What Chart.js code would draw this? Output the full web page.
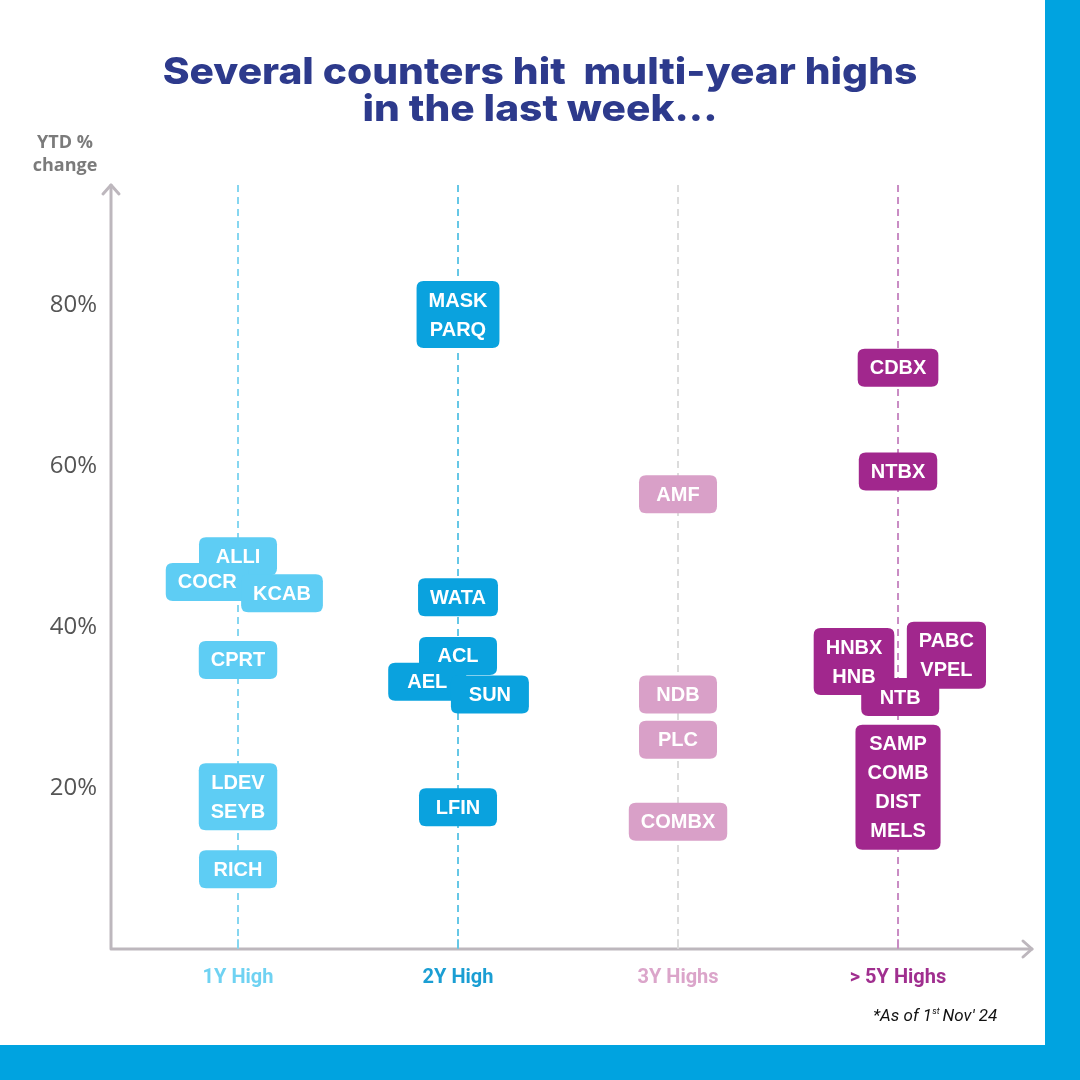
<!DOCTYPE html>
<html>
<head>
<meta charset="utf-8">
<title>Multi-year highs</title>
<script src="https://cdn.jsdelivr.net/npm/chart.js@4.4.1/dist/chart.umd.min.js"></script>
<style>
  body { margin: 0; background: #fff; }
  canvas { display: block; }
</style>
</head>
<body>
<canvas id="chart" width="1080" height="1080"></canvas>
<script>
// categorias e valores (YTD % change)
const categories = ['1Y High', '2Y High', '3Y Highs', '> 5Y Highs'];
const yTickValues = [20, 40, 60, 80];

const oneYearNames = [['ALLI'], ['COCR'], ['KCAB'], ['CPRT'], ['LDEV', 'SEYB'], ['RICH']];
const oneYearChange = [48.8, 45.6, 44.2, 35.9, 18.9, 9.9];
const oneYearShift = [0, -0.14, 0.2, 0, 0, 0];

const twoYearNames = [['MASK', 'PARQ'], ['WATA'], ['ACL'], ['AEL'], ['SUN'], ['LFIN']];
const twoYearChange = [78.8, 43.7, 36.4, 33.2, 31.6, 17.6];
const twoYearShift = [0, 0, 0, -0.14, 0.145, 0];

const threeYearNames = [['AMF'], ['NDB'], ['PLC'], ['COMBX']];
const threeYearChange = [56.5, 31.6, 26.0, 15.8];
const threeYearShift = [0, 0, 0, 0];

const fiveYearNames = [['CDBX'], ['NTBX'], ['HNBX', 'HNB'], ['PABC', 'VPEL'], ['NTB'], ['SAMP', 'COMB', 'DIST', 'MELS']];
const fiveYearChange = [72.2, 59.3, 35.7, 36.5, 31.3, 20.1];
const fiveYearShift = [0, 0, -0.2, 0.22, 0.01, 0];

// cores
const boxColors = ['#5ecdf4', '#0aa2de', '#d9a0c8', '#a1278d'];
const lineColors = ['#86d6f0', '#66c7e6', '#dcdcdc', '#c98cc4'];
const tickColors = ['#6fd2f2', '#1b9ed3', '#dba5ca', '#a02f8f'];
const axisColor = '#bdb7bd';

const groups = [
    [oneYearNames, oneYearChange, oneYearShift],
    [twoYearNames, twoYearChange, twoYearShift],
    [threeYearNames, threeYearChange, threeYearShift],
    [fiveYearNames, fiveYearChange, fiveYearShift]
];

const datasets = groups.map(function(g, c) {
    return {
        label: categories[c],
        data: g[1].map(function(v, i) {
            return { x: c + 1 + g[2][i], y: v, names: g[0][i] };
        }),
        pointRadius: 0,
        backgroundColor: boxColors[c]
    };
});

const BOX_FONT = 'bold 20px "Liberation Sans", Arial, sans-serif';
const NARROW = '"Liberation Sans Narrow", "Roboto", sans-serif';
const LINE_H = 29;

function roundedBox(ctx, x, y, w, h, r) {
    ctx.beginPath();
    ctx.moveTo(x + r, y);
    ctx.lineTo(x + w - r, y);
    ctx.quadraticCurveTo(x + w, y, x + w, y + r);
    ctx.lineTo(x + w, y + h - r);
    ctx.quadraticCurveTo(x + w, y + h, x + w - r, y + h);
    ctx.lineTo(x + r, y + h);
    ctx.quadraticCurveTo(x, y + h, x, y + h - r);
    ctx.lineTo(x, y + r);
    ctx.quadraticCurveTo(x, y, x + r, y);
    ctx.closePath();
    ctx.fill();
}

// percorre todas as caixas (posição vem das escalas do Chart.js)
function eachBox(chart, ctx, fn) {
    chart.data.datasets.forEach(function(ds, c) {
        const meta = chart.getDatasetMeta(c);
        meta.data.forEach(function(pt, i) {
            const names = ds.data[i].names;
            let tw = 0;
            names.forEach(function(n) { tw = Math.max(tw, ctx.measureText(n).width); });
            const w = Math.max(78, tw + 24);
            const h = names.length * LINE_H + 9;
            fn(c, pt, names, w, h);
        });
    });
}

const decorPlugin = {
    id: 'decor',
    beforeDraw: function(chart) {
        const ctx = chart.ctx;
        ctx.save();
        ctx.fillStyle = '#ffffff';
        ctx.fillRect(0, 0, chart.width, chart.height);
        ctx.restore();
    },
    beforeDatasetsDraw: function(chart) {
        const ctx = chart.ctx;
        const area = chart.chartArea;
        const xs = chart.scales.x;
        ctx.save();
        // linhas tracejadas de cada categoria
        categories.forEach(function(cat, c) {
            const px = xs.getPixelForValue(c + 1);
            ctx.strokeStyle = lineColors[c];
            ctx.lineWidth = 2;
            ctx.setLineDash([7, 5]);
            ctx.beginPath();
            ctx.moveTo(px, area.top);
            ctx.lineTo(px, area.bottom);
            ctx.stroke();
        });
        ctx.setLineDash([]);
        // eixos com setas
        ctx.strokeStyle = axisColor;
        ctx.lineWidth = 3;
        ctx.lineCap = 'round';
        ctx.lineJoin = 'round';
        ctx.beginPath();
        ctx.moveTo(area.left, area.top);
        ctx.lineTo(area.left, area.bottom);
        ctx.lineTo(area.right, area.bottom);
        ctx.stroke();
        ctx.beginPath();
        ctx.moveTo(area.left - 8, area.top + 9);
        ctx.lineTo(area.left, area.top);
        ctx.lineTo(area.left + 8, area.top + 9);
        ctx.stroke();
        ctx.beginPath();
        ctx.moveTo(area.right - 9, area.bottom - 8);
        ctx.lineTo(area.right, area.bottom);
        ctx.lineTo(area.right - 9, area.bottom + 8);
        ctx.stroke();
        // marcas no eixo x
        categories.forEach(function(cat, c) {
            const px = xs.getPixelForValue(c + 1);
            ctx.strokeStyle = lineColors[c];
            ctx.lineWidth = 2;
            ctx.beginPath();
            ctx.moveTo(px, area.bottom - 9);
            ctx.lineTo(px, area.bottom - 1);
            ctx.stroke();
        });
        ctx.restore();
    },
    afterDatasetsDraw: function(chart) {
        const ctx = chart.ctx;
        ctx.save();
        ctx.font = BOX_FONT;
        ctx.textAlign = 'center';
        ctx.textBaseline = 'middle';
        // primeiro as caixas, depois os textos
        eachBox(chart, ctx, function(c, pt, names, w, h) {
            ctx.fillStyle = boxColors[c];
            roundedBox(ctx, pt.x - w / 2, pt.y - h / 2, w, h, 7);
        });
        ctx.fillStyle = '#ffffff';
        eachBox(chart, ctx, function(c, pt, names, w, h) {
            names.forEach(function(n, k) {
                ctx.fillText(n, pt.x, pt.y - h / 2 + 4.5 + LINE_H * k + LINE_H / 2 + 1);
            });
        });
        ctx.restore();
    },
    afterDraw: function(chart) {
        const ctx = chart.ctx;
        ctx.save();
        // título
        ctx.fillStyle = '#2d3a8c';
        ctx.textAlign = 'center';
        ctx.textBaseline = 'alphabetic';
        ctx.font = '800 37px Inter, "Open Sans", sans-serif';
        ctx.save();
        ctx.translate(540, 0);
        ctx.scale(1.1, 1);
        ctx.fillText('Several counters hit  multi-year highs', 0, 84);
        ctx.fillText('in the last week...', 0, 121);
        ctx.restore();
        // título do eixo y
        ctx.fillStyle = '#7b7b7b';
        ctx.font = 'bold 18px "Open Sans", sans-serif';
        ctx.fillText('YTD %', 65, 148);
        ctx.fillText('change', 65, 171);
        // nota
        ctx.fillStyle = '#111111';
        ctx.textAlign = 'left';
        ctx.font = 'italic 17px ' + NARROW;
        let x = 873;
        ctx.fillText('*As of 1', x, 1021);
        x += ctx.measureText('*As of 1').width;
        ctx.font = 'italic 9px ' + NARROW;
        ctx.fillText('st', x, 1014);
        x += ctx.measureText('st').width + 3;
        ctx.font = 'italic 17px ' + NARROW;
        ctx.fillText("Nov' 24", x, 1021);
        // faixas azuis
        ctx.fillStyle = '#00a3e0';
        ctx.fillRect(1045, 0, 35, 1080);
        ctx.fillRect(0, 1045, 1080, 35);
        ctx.restore();
    }
};

new Chart(document.getElementById('chart'), {
    type: 'scatter',
    data: { datasets: datasets },
    options: {
        responsive: false,
        animation: false,
        layout: { padding: { top: 185, right: 48, left: 0, bottom: 0 } },
        plugins: {
            legend: { display: false },
            tooltip: { enabled: false }
        },
        scales: {
            x: {
                type: 'linear',
                min: 0.4227,
                max: 4.609,
                grid: { display: false, drawTicks: false },
                border: { display: false },
                afterBuildTicks: function(scale) {
                    scale.ticks = categories.map(function(c, i) { return { value: i + 1 }; });
                },
                afterFit: function(scale) { scale.height = 131; },
                ticks: {
                    padding: 17,
                    autoSkip: false,
                    maxRotation: 0,
                    color: function(ctx) { return tickColors[ctx.index]; },
                    font: { family: NARROW, size: 20, weight: 'bold' },
                    callback: function(v, i) { return categories[i]; }
                }
            },
            y: {
                min: 0,
                max: 94.9,
                grid: { display: false, drawTicks: false },
                border: { display: false },
                afterBuildTicks: function(scale) {
                    scale.ticks = yTickValues.map(function(v) { return { value: v }; });
                },
                afterFit: function(scale) { scale.width = 111; },
                ticks: {
                    padding: 14,
                    color: '#555555',
                    font: { family: '"Open Sans", sans-serif', size: 24 },
                    callback: function(v) { return v + '%'; }
                }
            }
        }
    },
    plugins: [decorPlugin]
});
</script>
</body>
</html>
